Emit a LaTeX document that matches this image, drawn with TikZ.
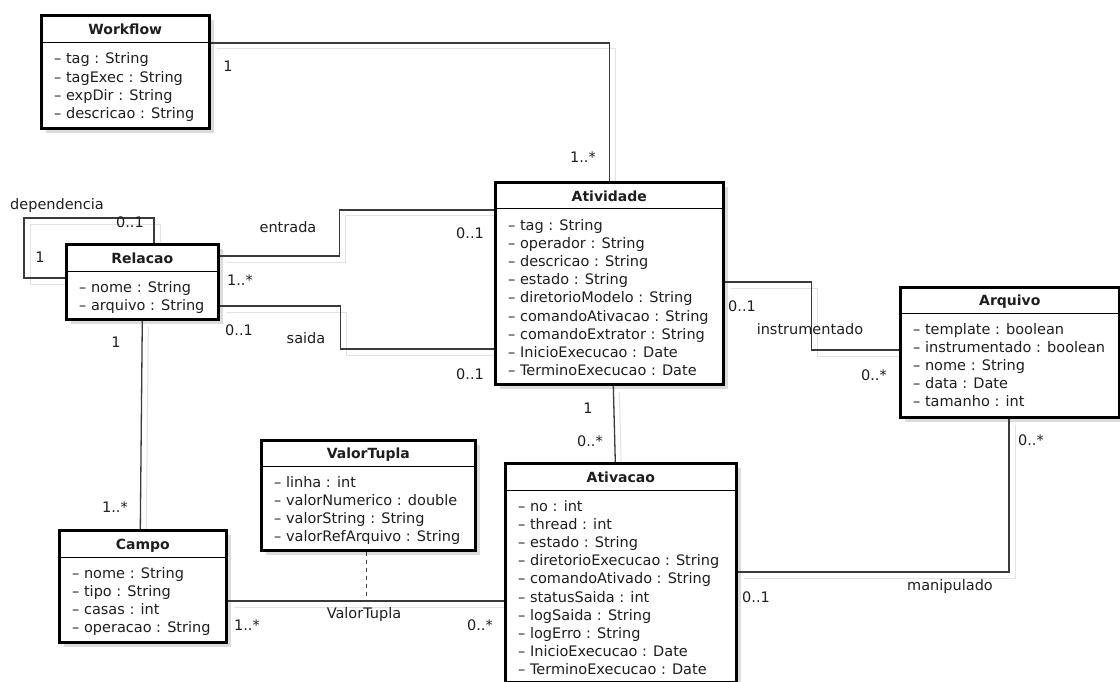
\documentclass[tikz,border=0pt]{standalone}
\usepackage{fontspec}
\setmainfont{DejaVu Sans}
\usetikzlibrary{calc}

\pgfdeclarelayer{shade}
\pgfdeclarelayer{lines}
\pgfsetlayers{shade,lines,main}

\definecolor{inkc}{HTML}{1E1E1E}
\definecolor{linec}{HTML}{3A3A3A}
\definecolor{boxshade}{HTML}{DCDCDC}
\definecolor{lineshade}{HTML}{E2E2E2}

\tikzset{
  classbox/.style={rectangle, draw=black, line width=2.6pt, fill=white,
    anchor=north west, inner sep=0pt},
  divider/.style={draw=black, line width=1pt},
  classtitle/.style={font=\fontsize{14}{16}\selectfont\bfseries, text=inkc,
    inner sep=0pt, anchor=base},
  attr/.style={font=\fontsize{14.5}{16}\selectfont, text=inkc,
    anchor=base west, inner sep=0pt},
  role/.style={font=\fontsize{14.5}{16}\selectfont, text=inkc,
    anchor=base, inner sep=0pt},
  conn/.style={draw=linec, line width=1.3pt},
  connshade/.style={draw=lineshade, line width=1pt,
    transform canvas={shift={(6,6)}}},
  assocclass/.style={draw=linec, line width=1.2pt, dash pattern=on 4pt off 4pt},
}

% UML class: name, x, y, width, height, header height, title, attributes
\newcommand\umlclass[8]{%
  \begin{pgfonlayer}{shade}
    \fill[boxshade] (#2+6,#3+6) rectangle ++(#4,#5);
  \end{pgfonlayer}
  \node[classbox, minimum width=#4pt, minimum height=#5pt] (#1) at (#2,#3) {};
  \draw[divider] ($(#1.north west)+(0,#6)$) -- ($(#1.north east)+(0,#6)$);
  \node[classtitle] (#1-title) at ($(#1.north)+(0,#6-8)$) {#7};
  \foreach \a [count=\k from 0] in {#8}
    \node[attr] (#1-attr\k) at ($(#1.north west)+(14,#6+21+18.2*\k)$) {\a};
}

% association line with its light offset shadow
\newcommand\conn[1]{%
  \begin{pgfonlayer}{shade}\draw[connshade] #1;\end{pgfonlayer}
  \begin{pgfonlayer}{lines}\draw[conn] #1;\end{pgfonlayer}
}

\begin{document}
\begin{tikzpicture}[x=1pt,y=-1pt]
\useasboundingbox (0,0) rectangle (1120,682);

\umlclass{wf}{40}{14}{168}{113}{29}{Workflow}
  {– tag : String, – tagExec : String, – expDir : String, – descricao : String}
\umlclass{rel}{65}{243}{152}{75}{28}{Relacao}
  {– nome : String, – arquivo : String}
\umlclass{at}{494}{181}{228}{202}{28}{Atividade}
  {– tag : String, – operador : String, – descricao : String, – estado : String,
   – diretorioModelo : String, – comandoAtivacao : String,
   – comandoExtrator : String, – InicioExecucao : Date, – TerminoExecucao : Date}
\umlclass{aq}{899}{286}{219}{130}{27}{Arquivo}
  {– template : boolean, – instrumentado : boolean, – nome : String,
   – data : Date, – tamanho : int}
\umlclass{av}{504}{462}{231}{219}{28}{Ativacao}
  {– no : int, – thread : int, – estado : String, – diretorioExecucao : String,
   – comandoAtivado : String, – statusSaida : int, – logSaida : String,
   – logErro : String, – InicioExecucao : Date, – TerminoExecucao : Date}
\umlclass{cp}{58}{529}{167}{112}{28}{Campo}
  {– nome : String, – tipo : String, – casas : int, – operacao : String}
\umlclass{vt}{260}{439}{214}{110}{27}{ValorTupla}
  {– linha : int, – valorNumerico : double, – valorString : String,
   – valorRefArquivo : String}

% associations
\conn{($(wf.north east)+(0,29)$) -| (at.north)}
\conn{($(rel.north west)+(0,35)$) -- ++(-41,0) |- ($(rel.north west)+(89,-25)$)
      -- ($(rel.north west)+(89,0)$)}
\conn{($(rel.north east)+(0,13)$) -- ++(120,0) |- ($(at.north west)+(0,29)$)}
\conn{($(rel.north east)+(0,63)$) -- ++(121,0) |- ($(at.north west)+(0,168)$)}
\conn{(rel.south) -- ($(cp.north)+(-2.5,0)$)}
\conn{($(at.south)+(4,0)$) -- ($(av.north)+(-5.5,0)$)}
\conn{($(at.north east)+(0,101)$) -- ++(87,0) |- ($(aq.north west)+(0,64)$)}
\conn{($(aq.south west)+(110,0)$) |- ($(av.north east)+(0,110)$)}
\coordinate (vtline) at ($(cp.north east)+(0,72)$);
\conn{(vtline) -- (vtline -| av.west)}
\coordinate (vtfoot) at ($(vt.south)+(-2,0)$);
\begin{pgfonlayer}{lines}
  \draw[assocclass] (vtfoot) -- (vtfoot |- vtline);
\end{pgfonlayer}

% role names and multiplicities
\node[role] (m-wf)    at (228,72)  {1};
\node[role] (m-wfat)  at (583,163) {1..*};
\node[role] (r-dep)   at (57,210)  {dependencia};
\node[role] (m-dep1)  at (130,227) {0..1};
\node[role] (m-dep2)  at (40,262)  {1};
\node[role] (r-ent)   at (288,233) {entrada};
\node[role] (m-ent1)  at (240,285) {1..*};
\node[role] (m-ent2)  at (470,238) {0..1};
\node[role] (r-sai)   at (306,343) {saida};
\node[role] (m-sai1)  at (239,335) {0..1};
\node[role] (m-sai2)  at (470,379) {0..1};
\node[role] (m-rc1)   at (116,347) {1};
\node[role] (m-rc2)   at (115,512) {1..*};
\node[role] (m-aa1)   at (588,413) {1};
\node[role] (m-aa2)   at (590,446) {0..*};
\node[role] (m-ins1)  at (742,311) {0..1};
\node[role] (r-ins)   at (810,334) {instrumentado};
\node[role] (m-ins2)  at (874,380) {0..*};
\node[role] (m-man1)  at (1031,445) {0..*};
\node[role] (r-man)   at (950,590) {manipulado};
\node[role] (m-man2)  at (756,602) {0..1};
\node[role] (r-vt)    at (364,618) {ValorTupla};
\node[role] (m-vt1)   at (247,630) {1..*};
\node[role] (m-vt2)   at (480,630) {0..*};
\end{tikzpicture}
\end{document}
